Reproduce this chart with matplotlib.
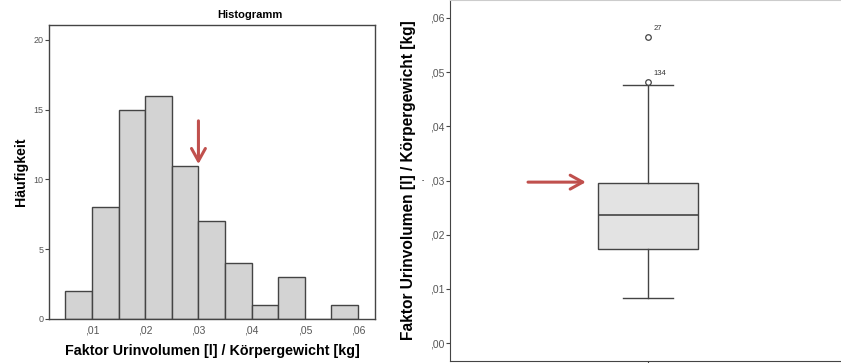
import matplotlib.pyplot as plt
from matplotlib.ticker import FuncFormatter

plt.rcParams['font.family'] = ['Liberation Sans', 'DejaVu Sans']

# histogram data
bin_left = [0.005, 0.010, 0.015, 0.020, 0.025, 0.030, 0.035, 0.040, 0.045, 0.050, 0.055]
counts = [2, 8, 15, 16, 11, 7, 4, 1, 3, 0, 1]
bin_width = 0.005

# boxplot summary values
q1, median, q3 = 0.0173, 0.0237, 0.0295
whis_low, whis_high = 0.0083, 0.0476
outliers = [0.0565, 0.0481]
outlier_ids = ['27', '134']

x_ticks = [0.01, 0.02, 0.03, 0.04, 0.05, 0.06]
y_ticks_hist = [0, 5, 10, 15, 20]
y_ticks_box = [0.00, 0.01, 0.02, 0.03, 0.04, 0.05, 0.06]

edge = '#444444'
red = '#c0504d'
label = 'Faktor Urinvolumen [l] / Körpergewicht [kg]'


def comma_fmt(v, pos):
    return ('%.2f' % v).lstrip('0').replace('.', ',')


fig = plt.figure(figsize=(8.41, 3.63), dpi=100)

# --- histogram ---
ax1 = fig.add_axes([49 / 841, 1 - 319 / 363, 326 / 841, 294 / 363])
ax1.bar(bin_left, counts, width=bin_width, align='edge',
        color='#d3d3d3', edgecolor=edge, linewidth=1.0)
ax1.set_xlim(0.0019, 0.0632)
ax1.set_ylim(0, 21.07)
ax1.set_xticks(x_ticks)
ax1.set_yticks(y_ticks_hist)
ax1.xaxis.set_major_formatter(FuncFormatter(comma_fmt))
ax1.tick_params(axis='x', length=0, pad=5, labelsize=7.5, labelcolor='#555555')
ax1.tick_params(axis='y', length=3, width=0.8, color=edge, pad=1,
                labelsize=6.5, labelcolor='#555555')
for s in ax1.spines.values():
    s.set_color(edge)
    s.set_linewidth(1.0)
ax1.set_xlabel(label, fontsize=10.3, fontweight='bold', labelpad=6)
ax1.set_ylabel('Häufigkeit', fontsize=10.2, fontweight='bold', labelpad=4)
fig.text(250 / 841, 1 - 15 / 363, 'Histogramm', ha='center', va='center',
         fontsize=8, fontweight='bold')
ax1.annotate('', xy=(0.030, 10.9), xytext=(0.030, 14.4),
             arrowprops=dict(arrowstyle='->,head_length=0.9,head_width=0.5',
                             color=red, lw=2.2))

# --- boxplot ---
ax2 = fig.add_axes([450 / 841, 1 - 361 / 363, 396 / 841, 361 / 363])
stats = [dict(med=median, q1=q1, q3=q3, whislo=whis_low, whishi=whis_high,
              fliers=outliers)]
ax2.bxp(stats, positions=[1], widths=0.2525, patch_artist=True,
        boxprops=dict(facecolor='#e3e3e3', edgecolor=edge, linewidth=1.0),
        medianprops=dict(color=edge, linewidth=1.2),
        whiskerprops=dict(color=edge, linewidth=1.0),
        capprops=dict(color=edge, linewidth=1.0), capwidths=0.126,
        flierprops=dict(marker='o', markersize=4, markerfacecolor='white',
                        markeredgecolor=edge, markeredgewidth=0.9))
for val, name in zip(outliers, outlier_ids):
    ax2.annotate(name, xy=(1, val), xytext=(4, 5), textcoords='offset points',
                 fontsize=5.5, color='#333333')
ax2.set_xlim(0.5, 1.5)
ax2.set_ylim(-0.0033, 0.0633)
ax2.set_xticks([1])
ax2.set_xticklabels([''])
ax2.set_yticks(y_ticks_box)
ax2.yaxis.set_major_formatter(FuncFormatter(comma_fmt))
ax2.tick_params(axis='y', length=3, width=0.8, color=edge, pad=1,
                labelsize=7.5, labelcolor='#555555')
ax2.tick_params(axis='x', length=3, width=0.8, color=edge)
ax2.spines['left'].set_color(edge)
ax2.spines['bottom'].set_color(edge)
ax2.spines['top'].set_color('#cccccc')
ax2.spines['right'].set_visible(False)
ax2.set_ylabel(label, fontsize=11.2, fontweight='bold', labelpad=10)
ax2.annotate('', xy=(0.85, 0.0297), xytext=(0.69, 0.0297),
             arrowprops=dict(arrowstyle='->,head_length=0.9,head_width=0.5',
                             color=red, lw=2.2))
fig.text(423 / 841, 1 - 181 / 363, '·', ha='center', va='center', fontsize=9)

fig.savefig('out.png', dpi=100)
